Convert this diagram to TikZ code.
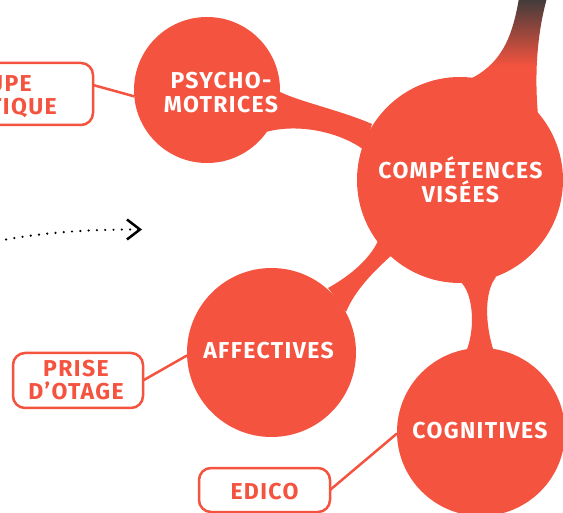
\documentclass[tikz,border=0pt]{standalone}
\usepackage{fontspec}
\setmainfont{Fira Sans}
\newfontfamily\dinfont[LetterSpace=6]{Fira Sans}
\usetikzlibrary{arrows.meta}
\definecolor{coral}{HTML}{F4533F}
\definecolor{tailgray}{HTML}{3E3B3A}
\begin{document}
\begin{tikzpicture}[x=1pt,y=-1pt,
  bubble/.style={circle,fill=coral,inner sep=0pt,outer sep=0pt},
  bubbletext/.style={text=white,font=\dinfont\fontsize{23}{24}\selectfont\bfseries,align=center,inner sep=0pt},
  tagbox/.style={draw=coral,line width=2.5pt,rounded corners=12pt,fill=white,inner sep=0pt,outer sep=0pt},
  tagtext/.style={text=coral,font=\dinfont\fontsize{23}{23}\selectfont\bfseries,align=center,inner sep=0pt},
  link/.style={draw=coral,line width=2.5pt},
]
\useasboundingbox (0,0) rectangle (563,513);
\clip (0,0) rectangle (563,513);
% tail
\begin{scope}
  \clip (519,-2) .. controls (512,40) and (500,65) .. (468,80) -- (480,115) -- (538,115)
    .. controls (534,70) and (538,30) .. (547,-2) -- cycle;
  \shade[top color=tailgray,bottom color=coral] (440,-2) rectangle (563,66);
  \fill[coral] (440,65) rectangle (563,130);
\end{scope}
% bridges
\fill[coral] (276,90) .. controls (296,101) and (340,110) .. (372,124) -- (364,150)
  .. controls (340,132) and (298,123) .. (266,132) -- cycle;
\fill[coral] (328,288) .. controls (346,278) and (368,262) .. (378,241) -- (392,255)
  .. controls (375,270) and (355,290) .. (346,312) -- cycle;
\fill[coral] (458,280) .. controls (472,288) and (477,325) .. (466,352) -- (494,352)
  .. controls (485,325) and (484,292) .. (496,277) -- cycle;
% circles
\node[bubble,minimum size=146pt] (psycho) at (207,90) {};
\node[bubble,minimum size=206pt] (comp) at (460,180) {};
\node[bubble,minimum size=169pt] (affect) at (271.5,352.5) {};
\node[bubble,minimum size=168pt] (cogn) at (481,432) {};
\node[bubbletext] (psychot) at (221,93) {PSYCHO-\\MOTRICES};
\node[bubbletext] (compt) at (460.5,180) {COMPÉTENCES\\VISÉES};
\node[bubbletext] (affectt) at (268.5,350.5) {AFFECTIVES};
\node[bubbletext] (cognt) at (480,430.5) {COGNITIVES};
% tag boxes
\node[tagbox,minimum width=170pt,minimum height=62pt,anchor=east] (grp) at (93,94) {};
\node[tagtext,anchor=base east] (grpa) at (32,92) {UPE};
\node[tagtext,anchor=base east] (grpb) at (57,115) {TIQUE};
\node[tagbox,minimum width=130pt,minimum height=55pt] (prise) at (78,380.5) {};
\node[tagtext] (priset) at (76,380) {PRISE\\D’OTAGE};
\node[tagbox,minimum width=131pt,minimum height=44pt] (edico) at (264.5,490) {};
\node[tagtext] (edicot) at (264.5,491.5) {EDICO};
% links
\draw[link] ([yshift=9pt]grp.east) -- (psycho.185);
\draw[link] (prise.east) -- (affect.182);
\draw[link] (edico.east) -- (cogn.181);
% dotted arrow
\coordinate (dstart) at (-2,241);
\coordinate (dend) at (142,229.5);
\draw[black,line width=2.4pt,line cap=round,dash pattern=on 0pt off 8.3pt,
  -{Straight Barb[length=13pt,width=20pt,line width=2.5pt]}]
  (dstart) .. controls (40,233) and (80,229.5) .. (dend);
\end{tikzpicture}
\end{document}
